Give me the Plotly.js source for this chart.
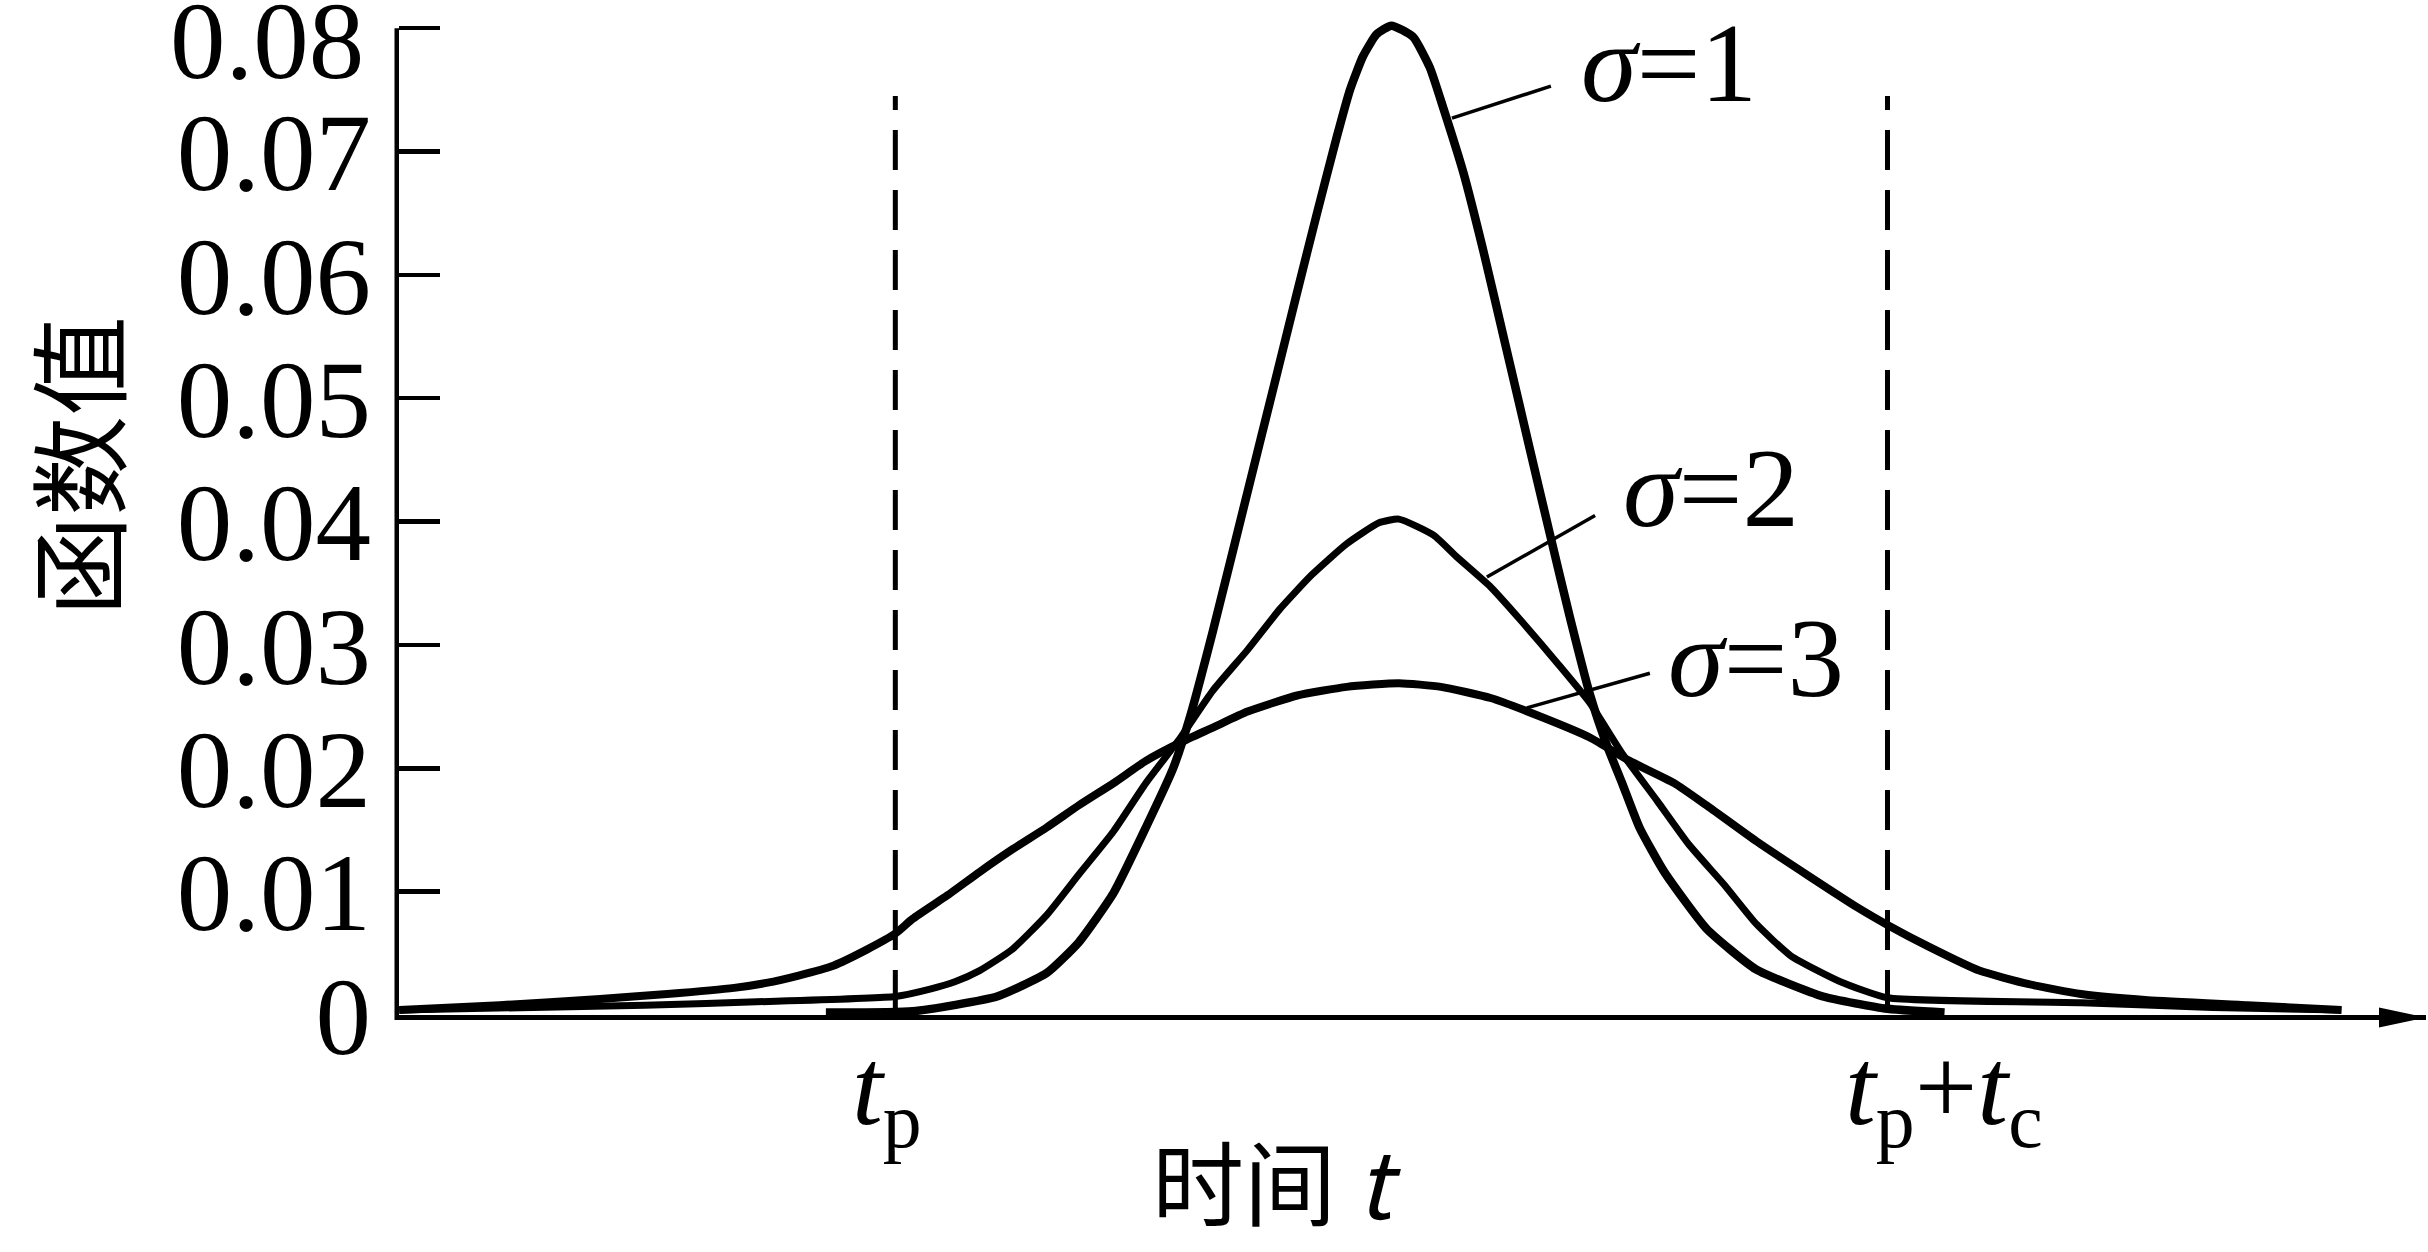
<!DOCTYPE html>
<html><head><meta charset="utf-8">
<script src="https://cdn.plot.ly/plotly-3.0.1.min.js"></script>
<style>html,body{margin:0;padding:0;background:#fff;}#chart{width:2428px;height:1252px;}</style>
</head><body><div id="chart"></div>
<script>
// x in units where t_p = 2.01 and t_p + t_c = 6.01
const sigma1X = [1.73, 2.08, 2.42, 2.62, 2.75, 2.89, 3.02, 3.13, 3.20, 3.29, 3.43, 3.54, 3.63, 3.71, 3.79, 3.843, 3.895, 3.95, 4.01, 4.097, 4.165, 4.218, 4.30, 4.38, 4.47, 4.57, 4.65, 4.73, 4.81, 4.88, 4.94, 5.01, 5.11, 5.28, 5.48, 5.75, 6.01, 6.24];
const sigma1Y = [0.0002, 0.0003, 0.0015, 0.0034, 0.0059, 0.0099, 0.0152, 0.0200, 0.0243, 0.0311, 0.0424, 0.0513, 0.0586, 0.0650, 0.0712, 0.0750, 0.0777, 0.0795, 0.0802, 0.0793, 0.0768, 0.0736, 0.0683, 0.0620, 0.0543, 0.0457, 0.0389, 0.0322, 0.0260, 0.0218, 0.0188, 0.0152, 0.0116, 0.0070, 0.0037, 0.0015, 0.0005, 0.0002];

const sigma2X = [0.01, 1.0, 1.5, 2.01, 2.15, 2.25, 2.35, 2.48, 2.62, 2.75, 2.89, 3.02, 3.16, 3.29, 3.43, 3.56, 3.69, 3.83, 3.96, 4.04, 4.18, 4.27, 4.41, 4.54, 4.68, 4.81, 4.94, 5.08, 5.21, 5.35, 5.48, 5.62, 5.82, 6.01, 6.79, 7.32, 7.84];
const sigma2Y = [0.0004, 0.0008, 0.0011, 0.0015, 0.0021, 0.0027, 0.0036, 0.0053, 0.0081, 0.0114, 0.0149, 0.0188, 0.0225, 0.0263, 0.0296, 0.0329, 0.0357, 0.0382, 0.0399, 0.0402, 0.0389, 0.0372, 0.0347, 0.0318, 0.0285, 0.0253, 0.0212, 0.0174, 0.0138, 0.0106, 0.0074, 0.0048, 0.0027, 0.0014, 0.0010, 0.0006, 0.0004];

const sigma3X = [0.01, 0.415, 0.82, 1.09, 1.36, 1.49, 1.62, 1.76, 1.895, 2.01, 2.08, 2.22, 2.35, 2.48, 2.62, 2.75, 2.89, 3.02, 3.16, 3.29, 3.43, 3.63, 3.83, 4.04, 4.21, 4.41, 4.61, 4.81, 4.97, 5.15, 5.28, 5.48, 5.69, 5.89, 6.01, 6.18, 6.38, 6.58, 6.79, 7.06, 7.46, 7.84];
const sigma3Y = [0.0004, 0.0008, 0.0013, 0.0017, 0.0022, 0.0026, 0.0032, 0.0040, 0.0053, 0.0066, 0.0078, 0.0097, 0.0116, 0.0134, 0.0152, 0.0170, 0.0188, 0.0206, 0.0221, 0.0233, 0.0246, 0.0259, 0.0266, 0.0269, 0.0266, 0.0257, 0.0242, 0.0225, 0.0206, 0.0188, 0.0170, 0.0141, 0.0113, 0.0087, 0.0073, 0.0055, 0.0036, 0.0025, 0.0017, 0.0012, 0.0008, 0.0004];

const yTickVals = [0, 0.01, 0.02, 0.03, 0.04, 0.05, 0.06, 0.07, 0.08];
const yTickText = ['0', '0.01', '0.02', '0.03', '0.04', '0.05', '0.06', '0.07', '0.08'];
const xMarkVals = [2.01, 6.01];
const xMarkText = ['<i>t</i><sub>p</sub>', '<i>t</i><sub>p</sub>+<i>t</i><sub>c</sub>'];
const seriesNames = ['<i>σ</i>=1', '<i>σ</i>=2', '<i>σ</i>=3'];
const labelX = [4.765, 4.935, 5.115];
const labelY = [0.0772, 0.0428, 0.0290];
const leaderX0 = [4.254, 4.395, 4.556];
const leaderY0 = [0.0727, 0.0355, 0.0249];
const leaderX1 = [4.653, 4.831, 5.052];
const leaderY1 = [0.0753, 0.0405, 0.0277];
const dashBottom = 0.0004, dashTop = 0.0745;
const xTitle = '时间 <i>t</i>';
const yTitle = '函数值';

const xRange = [0.009, 8.181];
const yRange = [0, 0.0822];
const serif = 'Liberation Serif, Times New Roman, serif';
const cjk = 'Noto Sans CJK SC, sans-serif';
const fs = 111;

const lineWidths = [8.5, 7, 8];
const xs = [sigma1X, sigma2X, sigma3X];
const ys = [sigma1Y, sigma2Y, sigma3Y];
const traces = xs.map((x, i) => ({
  x: x, y: ys[i], type: 'scatter', mode: 'lines', name: seriesNames[i],
  line: {color: '#000', width: lineWidths[i], shape: 'spline', smoothing: 0.5},
  hoverinfo: 'skip'
}));

const shapes = [];
xMarkVals.forEach(v => shapes.push({type: 'line', xref: 'x', yref: 'y', x0: v, x1: v, y0: dashBottom, y1: dashTop,
  line: {color: '#000', width: 5, dash: '40px,20px'}}));
for (let i = 0; i < 3; i++) {
  shapes.push({type: 'line', xref: 'x', yref: 'y', x0: leaderX0[i], y0: leaderY0[i], x1: leaderX1[i], y1: leaderY1[i],
    line: {color: '#000', width: 3.5}});
}
// y axis line (ends at top tick)
shapes.push({type: 'line', xref: 'paper', yref: 'paper', xsizemode: 'pixel', xanchor: 0, x0: -2.25, x1: -2.25,
  y0: -0.005, y1: yTickVals[yTickVals.length - 1] / yRange[1], line: {color: '#000', width: 4.5}});
// arrow head on x axis
shapes.push({type: 'path', xref: 'paper', yref: 'paper', xsizemode: 'pixel', ysizemode: 'pixel', xanchor: 1, yanchor: 0,
  path: 'M 0,-2.5 L -47,7.5 L -47,-12.5 Z', fillcolor: '#000', line: {width: 0}});

const annotations = [];
for (let i = 0; i < 3; i++) {
  annotations.push({xref: 'x', yref: 'y', x: labelX[i], y: labelY[i], text: seriesNames[i], showarrow: false,
    xanchor: 'left', yanchor: 'middle', font: {family: serif, size: fs + 2, color: '#000'}});
}
xMarkVals.forEach((v, i) => annotations.push({xref: 'x', yref: 'paper', x: v, y: 0, text: xMarkText[i], showarrow: false,
  xanchor: 'left', yanchor: 'top', xshift: -45, yshift: -8, font: {family: serif, size: fs, color: '#000'}}));
// top tick label nudged down to stay on the page
annotations.push({xref: 'paper', yref: 'y', x: 0, y: yTickVals[8], text: yTickText[8], showarrow: false,
  xanchor: 'right', yanchor: 'middle', xshift: -33, yshift: -12, font: {family: serif, size: fs, color: '#000'}});
annotations.push({xref: 'x', yref: 'paper', x: 3.55, y: 0, text: xTitle, showarrow: false, xanchor: 'center', yanchor: 'middle',
  yshift: -163, font: {family: cjk, size: 92, color: '#000'}});
annotations.push({xref: 'paper', yref: 'y', x: 0, y: 0.0445, text: yTitle, showarrow: false, textangle: -90,
  xanchor: 'center', yanchor: 'middle', xshift: -325, font: {family: cjk, size: 100, color: '#000'}});

const layout = {
  width: 2428, height: 1252,
  margin: {l: 399, r: 2, t: 1, b: 237},
  paper_bgcolor: '#fff', plot_bgcolor: '#fff',
  showlegend: false,
  font: {family: serif, color: '#000', size: fs},
  xaxis: {range: xRange, showline: true, linewidth: 5, linecolor: '#000', ticks: '', showticklabels: false,
    showgrid: false, zeroline: false, fixedrange: true},
  yaxis: {range: yRange, showline: false, ticks: 'inside', ticklen: 41, tickwidth: 4.5, tickcolor: '#000',
    tickvals: yTickVals, ticktext: yTickText.slice(0, 8).concat(['']), tickfont: {family: serif, size: fs, color: '#000'},
    ticklabelstandoff: 27, showgrid: false, zeroline: false, fixedrange: true},
  shapes: shapes, annotations: annotations
};
Plotly.newPlot('chart', traces, layout, {staticPlot: true, displayModeBar: false});
</script></body></html>
